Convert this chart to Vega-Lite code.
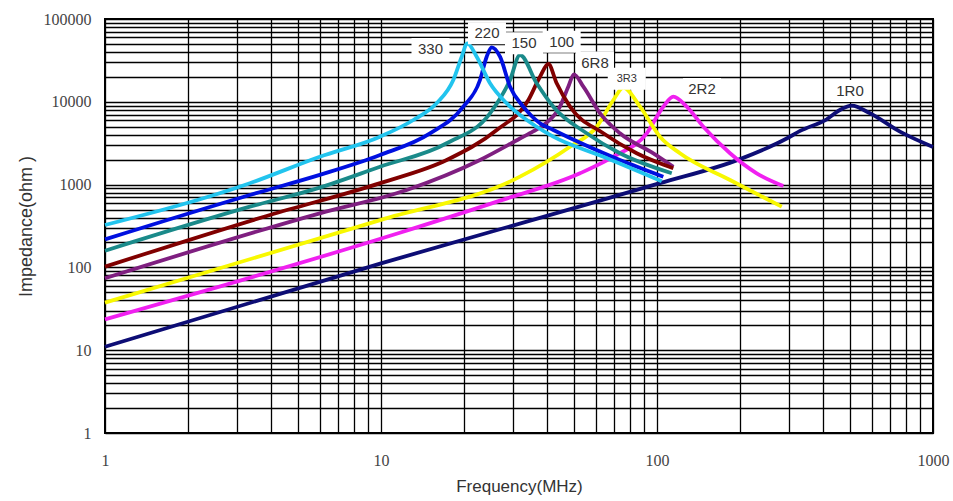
{
  "$schema": "https://vega.github.io/schema/vega-lite/v6.json",
  "width": 828,
  "height": 414,
  "autosize": "none",
  "padding": {"left": 105, "top": 19, "right": 20, "bottom": 68},
  "background": "white",
  "config": {"view": {"stroke": "black", "strokeWidth": 2}},
  "datasets": {
    "curves": [
      {"series": "1R0", "f": 1, "z": 11},
      {"series": "1R0", "f": 10, "z": 112},
      {"series": "1R0", "f": 52.6, "z": 545},
      {"series": "1R0", "f": 102.5, "z": 1040},
      {"series": "1R0", "f": 200, "z": 2030},
      {"series": "1R0", "f": 295, "z": 3600},
      {"series": "1R0", "f": 330, "z": 4450},
      {"series": "1R0", "f": 412, "z": 6150},
      {"series": "1R0", "f": 460, "z": 7960},
      {"series": "1R0", "f": 507.5, "z": 8970},
      {"series": "1R0", "f": 591, "z": 7260},
      {"series": "1R0", "f": 759, "z": 4355},
      {"series": "1R0", "f": 1000, "z": 2845},

      {"series": "2R2", "f": 1, "z": 23.6},
      {"series": "2R2", "f": 11.7, "z": 262},
      {"series": "2R2", "f": 27, "z": 640},
      {"series": "2R2", "f": 52.6, "z": 1369},
      {"series": "2R2", "f": 69.5, "z": 2173},
      {"series": "2R2", "f": 91.8, "z": 4165},
      {"series": "2R2", "f": 105.4, "z": 8730},
      {"series": "2R2", "f": 114.6, "z": 11520},
      {"series": "2R2", "f": 128.1, "z": 8730},
      {"series": "2R2", "f": 147.2, "z": 5000},
      {"series": "2R2", "f": 183.9, "z": 2388},
      {"series": "2R2", "f": 229.7, "z": 1369},
      {"series": "2R2", "f": 286.9, "z": 962},

      {"series": "3R3", "f": 1, "z": 37.5},
      {"series": "3R3", "f": 10, "z": 375},
      {"series": "3R3", "f": 31.88, "z": 1246},
      {"series": "3R3", "f": 48.4, "z": 2870},
      {"series": "3R3", "f": 60.5, "z": 5000},
      {"series": "3R3", "f": 69.5, "z": 10510},
      {"series": "3R3", "f": 75.5, "z": 14880},
      {"series": "3R3", "f": 86.8, "z": 8730},
      {"series": "3R3", "f": 102.5, "z": 3790},
      {"series": "3R3", "f": 121.1, "z": 2388},
      {"series": "3R3", "f": 183.9, "z": 1137},
      {"series": "3R3", "f": 283, "z": 541},

      {"series": "6R8", "f": 1, "z": 74},
      {"series": "6R8", "f": 6, "z": 450},
      {"series": "6R8", "f": 12.4, "z": 861},
      {"series": "6R8", "f": 22.84, "z": 1982},
      {"series": "6R8", "f": 31.88, "z": 3600},
      {"series": "6R8", "f": 35.6, "z": 4400},
      {"series": "6R8", "f": 38.7, "z": 5200},
      {"series": "6R8", "f": 44.5, "z": 8730},
      {"series": "6R8", "f": 47.7, "z": 15220},
      {"series": "6R8", "f": 50, "z": 21480},
      {"series": "6R8", "f": 54.1, "z": 15220},
      {"series": "6R8", "f": 62.2, "z": 7260},
      {"series": "6R8", "f": 73.4, "z": 4165},
      {"series": "6R8", "f": 97, "z": 2388},
      {"series": "6R8", "f": 114.6, "z": 1645},

      {"series": "100", "f": 1, "z": 102},
      {"series": "100", "f": 3.96, "z": 430},
      {"series": "100", "f": 10, "z": 1050},
      {"series": "100", "f": 17.3, "z": 1982},
      {"series": "100", "f": 26.27, "z": 4565},
      {"series": "100", "f": 34.2, "z": 10510},
      {"series": "100", "f": 37.68, "z": 20100},
      {"series": "100", "f": 40.4, "z": 28610},
      {"series": "100", "f": 43.3, "z": 16730},
      {"series": "100", "f": 48.4, "z": 8730},
      {"series": "100", "f": 63.9, "z": 4165},
      {"series": "100", "f": 84.4, "z": 2388},
      {"series": "100", "f": 114.6, "z": 1574},

      {"series": "150", "f": 1, "z": 159},
      {"series": "150", "f": 3.35, "z": 541},
      {"series": "150", "f": 6, "z": 920},
      {"series": "150", "f": 9.92, "z": 1645},
      {"series": "150", "f": 17.3, "z": 3155},
      {"series": "150", "f": 24.83, "z": 7260},
      {"series": "150", "f": 29.34, "z": 18340},
      {"series": "150", "f": 31.88, "z": 36740},
      {"series": "150", "f": 36.65, "z": 16730},
      {"series": "150", "f": 42.1, "z": 8730},
      {"series": "150", "f": 55.6, "z": 4165},
      {"series": "150", "f": 73.4, "z": 2388},
      {"series": "150", "f": 113.1, "z": 1369},

      {"series": "220", "f": 1, "z": 218},
      {"series": "220", "f": 3.35, "z": 749},
      {"series": "220", "f": 6, "z": 1310},
      {"series": "220", "f": 9.92, "z": 2277},
      {"series": "220", "f": 15.05, "z": 4165},
      {"series": "220", "f": 19.87, "z": 8730},
      {"series": "220", "f": 22.84, "z": 18340},
      {"series": "220", "f": 24.15, "z": 35060},
      {"series": "220", "f": 25.18, "z": 45500},
      {"series": "220", "f": 26.99, "z": 35060},
      {"series": "220", "f": 29.34, "z": 15220},
      {"series": "220", "f": 32.78, "z": 8730},
      {"series": "220", "f": 37.68, "z": 5500},
      {"series": "220", "f": 42.1, "z": 4565},
      {"series": "220", "f": 73.4, "z": 1982},
      {"series": "220", "f": 105.4, "z": 1246},

      {"series": "330", "f": 1, "z": 325},
      {"series": "330", "f": 3.35, "z": 1040},
      {"series": "330", "f": 6, "z": 2170},
      {"series": "330", "f": 9.92, "z": 3790},
      {"series": "330", "f": 13.1, "z": 6030},
      {"series": "330", "f": 15.9, "z": 9590},
      {"series": "330", "f": 18.28, "z": 18340},
      {"series": "330", "f": 19.61, "z": 35060},
      {"series": "330", "f": 20.54, "z": 50900},
      {"series": "330", "f": 22.22, "z": 35060},
      {"series": "330", "f": 24.83, "z": 16730},
      {"series": "330", "f": 28.54, "z": 9590},
      {"series": "330", "f": 36.65, "z": 5000},
      {"series": "330", "f": 42.1, "z": 3790},
      {"series": "330", "f": 63.9, "z": 2173},
      {"series": "330", "f": 104, "z": 1100}
    ],
    "labels": [
      {"label": "330", "f": 15.11, "z": 43420},
      {"label": "220", "f": 24.21, "z": 67200},
      {"label": "150", "f": 32.97, "z": 50880},
      {"label": "100", "f": 45.15, "z": 53190},
      {"label": "6R8", "f": 59.6, "z": 29820},
      {"label": "3R3", "f": 77.7, "z": 18960},
      {"label": "2R2", "f": 145.6, "z": 14280},
      {"label": "1R0", "f": 500.5, "z": 13500}
    ]
  },
  "layer": [
    {
      "data": {"name": "curves"},
      "mark": {"type": "line", "strokeWidth": 3.8, "interpolate": "monotone"},
      "encoding": {
        "x": {
          "field": "f", "type": "quantitative",
          "scale": {"type": "log", "domain": [1, 1000], "nice": false},
          "axis": {
            "values": [1,2,3,4,5,6,7,8,9,10,20,30,40,50,60,70,80,90,100,200,300,400,500,600,700,800,900,1000],
            "grid": true, "gridColor": "black", "gridWidth": 1.3, "gridOpacity": 1,
            "ticks": false, "domain": false,
            "labelExpr": "(datum.value == 1 || datum.value == 10 || datum.value == 100 || datum.value == 1000) ? format(datum.value, 'd') : ''",
            "labelFont": "Liberation Serif", "labelFontSize": 16, "labelColor": "#444",
            "labelPadding": 19, "labelOverlap": false, "labelFlush": false,
            "title": "Frequency(MHz)", "titleFont": "Liberation Sans", "titleFontSize": 17,
            "titleFontWeight": "normal", "titleColor": "#333", "titlePadding": 10
          }
        },
        "y": {
          "field": "z", "type": "quantitative",
          "scale": {"type": "log", "domain": [1, 100000], "nice": false},
          "axis": {
            "values": [1,2,3,4,5,6,7,8,9,10,20,30,40,50,60,70,80,90,100,200,300,400,500,600,700,800,900,1000,2000,3000,4000,5000,6000,7000,8000,9000,10000,20000,30000,40000,50000,60000,70000,80000,90000,100000],
            "grid": true, "gridColor": "black", "gridWidth": 1.3, "gridOpacity": 1,
            "ticks": false, "domain": false,
            "labelExpr": "(datum.value == 1 || datum.value == 10 || datum.value == 100 || datum.value == 1000 || datum.value == 10000 || datum.value == 100000) ? format(datum.value, 'd') : ''",
            "labelFont": "Liberation Serif", "labelFontSize": 16, "labelColor": "#444",
            "labelPadding": 14, "labelOverlap": false, "labelFlush": false,
            "title": "Impedance(ohm )", "titleFont": "Liberation Sans", "titleFontSize": 18,
            "titleFontWeight": "normal", "titleColor": "#333", "titlePadding": 8
          }
        },
        "color": {
          "field": "series", "type": "nominal",
          "scale": {
            "domain": ["1R0", "2R2", "3R3", "6R8", "100", "150", "220", "330"],
            "range": ["#0d0d75", "#f020f0", "#f8f800", "#7f1f80", "#800000", "#1a8a8a", "#0010e0", "#22c4ee"]
          },
          "legend": null
        }
      }
    },
    {
      "data": {"name": "labels"},
      "mark": {"type": "point", "shape": "M-1,-0.58H1V0.58H-1Z", "filled": true, "color": "white", "opacity": 1, "strokeWidth": 0, "size": 1444},
      "encoding": {
        "x": {"field": "f", "type": "quantitative"},
        "y": {"field": "z", "type": "quantitative"}
      }
    },
    {
      "data": {"name": "labels"},
      "mark": {"type": "text", "font": "Liberation Sans", "color": "#333", "align": "center", "baseline": "middle"},
      "encoding": {
        "x": {"field": "f", "type": "quantitative"},
        "y": {"field": "z", "type": "quantitative"},
        "text": {"field": "label"},
        "size": {"condition": {"test": "datum.label == '3R3'", "value": 11}, "value": 15}
      }
    }
  ]
}
